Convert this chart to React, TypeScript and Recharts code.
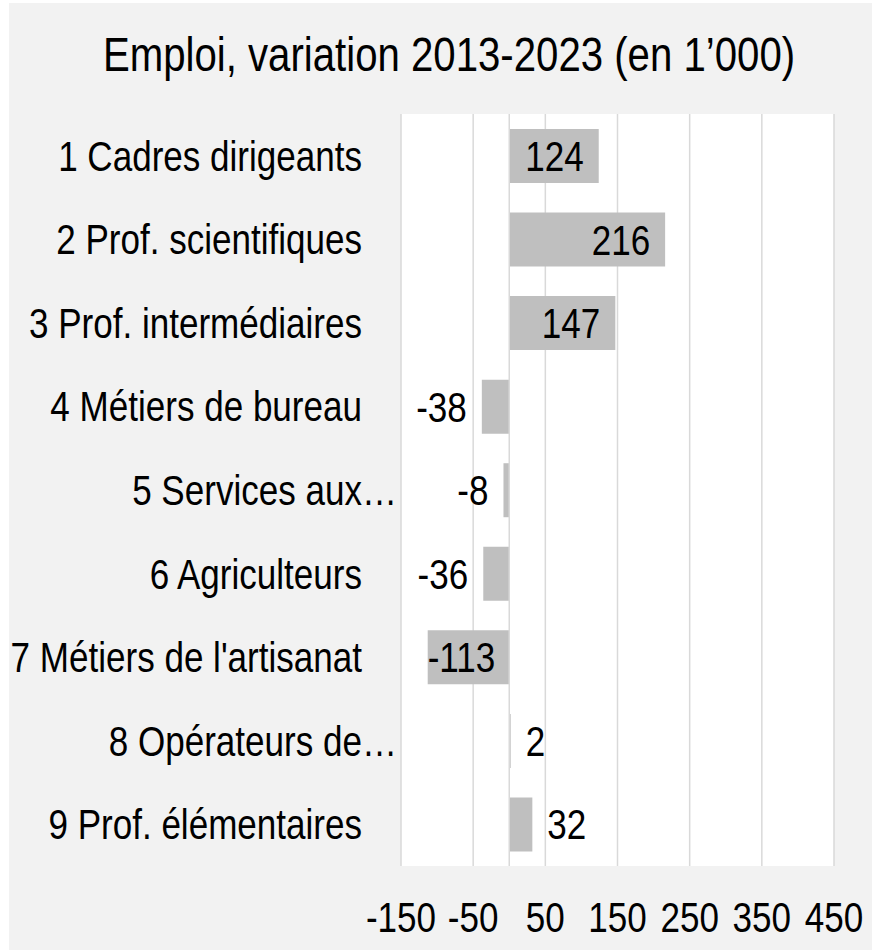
import React from 'react';
import { BarChart, Bar, XAxis, YAxis, CartesianGrid, ReferenceLine, LabelList } from 'recharts';

const categories = [
  '1 Cadres dirigeants',
  '2 Prof. scientifiques',
  '3 Prof. intermédiaires',
  '4 Métiers de bureau',
  '5 Services aux…',
  '6 Agriculteurs',
  "7 Métiers de l'artisanat",
  '8 Opérateurs de…',
  '9 Prof. élémentaires',
];
const values = [124, 216, 147, -38, -8, -36, -113, 2, 32];
const xTicks = [-150, -50, 50, 150, 250, 350, 450];
const xDomain = [-150, 450];
const title = 'Emploi, variation 2013-2023 (en 1’000)';

const data = categories.map((name, i) => ({ name, value: values[i] }));

const FONT = '"Liberation Sans", Arial, sans-serif';
const FS = 43;
const SX = 0.815;
const PLOT_LEFT = 401;
const PLOT_RIGHT = 834;

let ctx: CanvasRenderingContext2D | null = null;
const measure = (s: string) => {
  if (!ctx) {
    const c = document.createElement('canvas');
    ctx = c.getContext('2d');
  }
  if (!ctx) return s.length * FS * 0.556 * SX;
  ctx.font = `${FS}px ${FONT}`;
  return ctx.measureText(s).width * SX;
};

const NText = ({ x, y, anchor, size, sx, children }: any) => (
  <text
    transform={`translate(${x} ${y}) scale(${sx ?? SX} 1)`}
    x={0}
    y={0}
    textAnchor={anchor}
    fontFamily={FONT}
    fontSize={size}
    fill="#000"
  >
    {children}
  </text>
);

const renderLabel = (props: any) => {
  const { x, y, width, height, value } = props;
  const left = Math.min(x, x + width);
  const right = Math.max(x, x + width);
  const w = right - left;
  const s = String(value);
  const tw = measure(s);
  const pad = 15;
  let tx: number;
  let anchor: 'start' | 'end';
  if (value >= 0) {
    if (w >= tw + 25) {
      tx = right - pad;
      anchor = 'end';
    } else {
      tx = right + pad;
      anchor = 'start';
      if (tx + tw > PLOT_RIGHT) {
        tx = right;
        anchor = 'end';
      }
    }
  } else {
    if (w >= tw + 25) {
      tx = left + pad;
      anchor = 'start';
    } else {
      tx = left - pad;
      anchor = 'end';
      if (tx - tw < PLOT_LEFT) {
        tx = left;
        anchor = 'start';
      }
    }
  }
  return <NText x={tx} y={y + height / 2 + 15} anchor={anchor} size={FS}>{s}</NText>;
};

const YTick = (props: any) => {
  const { y, payload } = props;
  const label = String(payload.value);
  const x = label.endsWith('…') ? 397 : 362;
  return <NText x={x} y={y + 15} anchor="end" size={FS}>{label}</NText>;
};

const XTick = (props: any) => {
  const { x, payload } = props;
  return <NText x={x} y={932} anchor="middle" size={FS}>{payload.value}</NText>;
};

export default function App() {
  return (
    <div style={{ position: 'absolute', left: 0, top: 0, width: 872, height: 950, background: '#ffffff', overflow: 'hidden' }}>
      <div style={{ position: 'absolute', left: 9, top: 3, width: 863, height: 947, background: '#f2f2f2' }} />
      <svg width={872} height={110} style={{ position: 'absolute', left: 0, top: 0 }}>
        <NText x={449} y={71} anchor="middle" size={49} sx={0.82}>{title}</NText>
      </svg>
      <div style={{ position: 'absolute', left: 0, top: 0 }}>
        <BarChart
          width={872}
          height={950}
          data={data}
          layout="vertical"
          margin={{ top: 114, right: 38, bottom: 0, left: 0 }}
        >
          <CartesianGrid horizontal={false} vertical={true} stroke="#d9d9d9" strokeWidth={1.5} fill="#ffffff" />
          <XAxis
            type="number"
            domain={xDomain}
            ticks={xTicks}
            allowDataOverflow
            height={84}
            axisLine={false}
            tickLine={false}
            tick={<XTick />}
            interval={0}
          />
          <YAxis
            type="category"
            dataKey="name"
            width={401}
            axisLine={false}
            tickLine={false}
            tick={<YTick />}
            interval={0}
          />
          <ReferenceLine x={0} stroke="#d9d9d9" strokeWidth={1.5} />
          <Bar dataKey="value" fill="#bfbfbf" barSize={54} isAnimationActive={false}>
            <LabelList dataKey="value" content={renderLabel} />
          </Bar>
        </BarChart>
      </div>
    </div>
  );
}
